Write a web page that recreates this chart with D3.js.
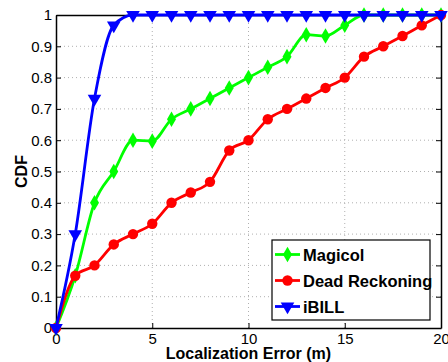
<!DOCTYPE html>
<html>
<head>
<meta charset="utf-8">
<script src="https://cdn.jsdelivr.net/npm/d3@7"></script>
<style>
  body { margin: 0; background: #fff; }
  svg { display: block; font-family: "Liberation Sans", Arial, sans-serif; }
</style>
</head>
<body>
<div id="chart"></div>
<script>
window.addEventListener("DOMContentLoaded", function() {
    // Data
    const errors = d3.range(0, 21);
    const magicol = [0, 0.167, 0.4, 0.5, 0.6, 0.597, 0.667, 0.7, 0.733, 0.767, 0.8,
                     0.833, 0.867, 0.937, 0.933, 0.967, 1, 1, 1, 1, 1];
    const deadReckoning = [0, 0.167, 0.2, 0.267, 0.3, 0.333, 0.4, 0.433, 0.467, 0.567, 0.6,
                           0.667, 0.7, 0.733, 0.767, 0.8, 0.867, 0.9, 0.933, 0.967, 1];
    const ibill = [0, 0.3, 0.733, 0.967, 1, 1, 1, 1, 1, 1, 1,
                   1, 1, 1, 1, 1, 1, 1, 1, 1, 1];
    const xTicks = [0, 5, 10, 15, 20];
    const yTicks = d3.range(0, 11).map(d => d / 10);

    const series = [
        { name: 'Magicol', values: magicol, color: '#00ff00', marker: 'diamond' },
        { name: 'Dead Reckoning', values: deadReckoning, color: '#ff0000', marker: 'circle' },
        { name: 'iBILL', values: ibill, color: '#0000ff', marker: 'triangle' }
    ];

    // Set dimensions and margins
    const width = 448;
    const height = 362;
    const margin = { top: 15, right: 7, bottom: 34, left: 56 };
    const innerW = width - margin.left - margin.right;
    const innerH = height - margin.top - margin.bottom;

    const svg = d3.select('#chart')
        .append('svg')
        .attr('width', width)
        .attr('height', height);

    const g = svg.append('g')
        .attr('transform', `translate(${margin.left},${margin.top})`);

    const x = d3.scaleLinear().domain([0, 20]).range([0, innerW]);
    const y = d3.scaleLinear().domain([0, 1]).range([innerH, 0]);

    // Grid
    g.selectAll('.gx')
        .data(xTicks.slice(1, -1))
        .enter().append('line')
        .attr('x1', d => x(d)).attr('x2', d => x(d))
        .attr('y1', 0).attr('y2', innerH)
        .attr('stroke', '#b0b0b0')
        .attr('stroke-dasharray', '1,3');
    g.selectAll('.gy')
        .data(yTicks.slice(1, -1))
        .enter().append('line')
        .attr('x1', 0).attr('x2', innerW)
        .attr('y1', d => y(d)).attr('y2', d => y(d))
        .attr('stroke', '#b0b0b0')
        .attr('stroke-dasharray', '1,3');

    // Axes (ticks inward, box on)
    const fmt = d => d === 0 ? '0' : d === 1 ? '1' : d3.format('.1f')(d);
    g.append('g')
        .attr('transform', `translate(0,${innerH})`)
        .call(d3.axisBottom(x).tickValues(xTicks).tickSizeInner(-5).tickSizeOuter(0).tickPadding(5));
    g.append('g')
        .call(d3.axisLeft(y).tickValues(yTicks).tickFormat(fmt).tickSizeInner(-5).tickSizeOuter(0).tickPadding(4));
    g.append('g')
        .attr('transform', `translate(${innerW},0)`)
        .call(d3.axisRight(y).tickValues(yTicks).tickFormat('').tickSizeInner(-5).tickSizeOuter(0));
    g.append('g')
        .call(d3.axisTop(x).tickValues(xTicks).tickFormat('').tickSizeInner(-5).tickSizeOuter(0));

    g.selectAll('.domain').attr('stroke', '#000').attr('stroke-width', 1.5);
    g.selectAll('.tick line').attr('stroke', '#000');
    g.selectAll('.tick text')
        .attr('fill', '#000')
        .style('font-size', '15px');

    // Lines and markers
    const line = d3.line()
        .x((d, i) => x(errors[i]))
        .y(d => y(d))
        .curve(d3.curveMonotoneX);

    const symbolFor = {
        diamond: d3.symbol().type(d3.symbolDiamond).size(70),
        circle: d3.symbol().type(d3.symbolCircle).size(85),
        triangle: d3.symbol().type(d3.symbolTriangle).size(80)
    };
    const rot = m => m === 'triangle' ? ' rotate(180)' : '';

    series.forEach(s => {
        g.append('path')
            .datum(s.values)
            .attr('d', line)
            .attr('fill', 'none')
            .attr('stroke', s.color)
            .attr('stroke-width', 2.8);
        g.selectAll(null)
            .data(s.values)
            .enter().append('path')
            .attr('d', symbolFor[s.marker])
            .attr('transform', (d, i) => `translate(${x(errors[i])},${y(d)})${rot(s.marker)}`)
            .attr('fill', s.color);
    });

    // Axis titles
    svg.append('text')
        .attr('x', margin.left + innerW / 2)
        .attr('y', 359)
        .attr('text-anchor', 'middle')
        .style('font-size', '16px')
        .style('font-weight', 'bold')
        .text('Localization Error (m)');
    svg.append('text')
        .attr('transform', `translate(27,${margin.top + innerH / 2}) rotate(-90)`)
        .attr('text-anchor', 'middle')
        .style('font-size', '16px')
        .style('font-weight', 'bold')
        .text('CDF');

    // Legend
    const legend = svg.append('g').attr('transform', 'translate(272,240)');
    legend.append('rect')
        .attr('width', 158).attr('height', 80)
        .attr('fill', '#fff')
        .attr('stroke', '#000')
        .attr('stroke-width', 1.2);
    series.forEach((s, i) => {
        const yy = 14.5 + i * 26;
        legend.append('line')
            .attr('x1', 3).attr('x2', 28)
            .attr('y1', yy).attr('y2', yy)
            .attr('stroke', s.color)
            .attr('stroke-width', 2.8);
        legend.append('path')
            .attr('d', symbolFor[s.marker])
            .attr('transform', `translate(15.5,${yy})${rot(s.marker)}`)
            .attr('fill', s.color);
        legend.append('text')
            .attr('x', 31)
            .attr('y', yy + 6)
            .style('font-size', '16.5px')
            .style('font-weight', 'bold')
            .text(s.name);
    });
});
</script>
</body>
</html>
